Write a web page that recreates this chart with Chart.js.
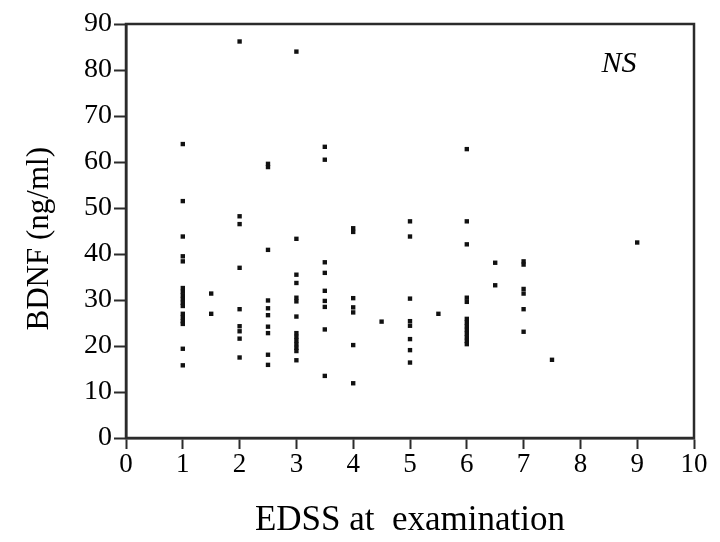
<!DOCTYPE html>
<html>
<head>
<meta charset="utf-8">
<script src="https://cdn.jsdelivr.net/npm/chart.js@4.4.0/dist/chart.umd.min.js"></script>
<style>
  html, body { margin: 0; padding: 0; background: #fff; }
  #wrap { width: 720px; height: 542px; }
</style>
</head>
<body>
<div id="wrap"><canvas id="chart" width="720" height="542"></canvas></div>
<script>
// EDSS score (x) and BDNF level (y) for each patient
const edssScores = [
  1, 1, 1, 1, 1, 1, 1, 1, 1, 1, 1, 1, 1, 1, 1, 1, 1,
  1.5, 1.5,
  2, 2, 2, 2, 2, 2, 2, 2, 2,
  2.5, 2.5, 2.5, 2.5, 2.5, 2.5, 2.5, 2.5, 2.5, 2.5,
  3, 3, 3, 3, 3, 3, 3, 3, 3, 3, 3, 3, 3, 3,
  3.5, 3.5, 3.5, 3.5, 3.5, 3.5, 3.5, 3.5, 3.5,
  4, 4, 4, 4, 4, 4, 4,
  4.5,
  5, 5, 5, 5, 5, 5, 5, 5,
  5.5,
  6, 6, 6, 6, 6, 6, 6, 6, 6, 6, 6, 6, 6,
  6.5, 6.5,
  7, 7, 7, 7, 7, 7,
  7.5,
  9
];
const bdnfLevels = [
  63.9, 51.5, 43.8, 39.5, 38.4, 32.6, 31.8, 31.0, 30.2, 29.4, 28.7, 27.0, 26.2, 25.4, 24.8, 19.4, 15.8,
  31.4, 27.0,
  86.2, 48.2, 46.5, 37.0, 28.0, 24.3, 23.2, 21.6, 17.5,
  59.6, 58.9, 40.9, 29.9, 28.2, 26.7, 24.2, 22.8, 18.1, 15.9,
  84.0, 43.3, 35.5, 33.7, 30.5, 29.7, 26.4, 22.8, 22.0, 21.2, 20.4, 19.6, 18.9, 16.9,
  63.3, 60.5, 38.2, 35.9, 32.0, 29.8, 28.5, 23.6, 13.5,
  45.6, 44.8, 30.4, 28.4, 27.3, 20.2, 11.9,
  25.3,
  47.1, 43.8, 30.3, 25.4, 24.4, 21.5, 19.1, 16.4,
  27.0,
  62.8, 47.1, 42.1, 30.5, 29.6, 25.9, 25.1, 24.3, 23.5, 22.7, 21.9, 21.1, 20.4,
  38.1, 33.2,
  38.4, 37.7, 32.4, 31.4, 28.0, 23.1,
  17.0,
  42.5
];

const xTitle = 'EDSS at  examination';
const yTitle = 'BDNF (ng/ml)  ';
const noteText = 'NS';

const serif = "'Liberation Serif', 'Times New Roman', serif";
const ink = '#2b2b2b';

// full frame round the plot + the NS note
const framePlugin = {
  id: 'frame',
  afterDraw(chart) {
    const { ctx, chartArea: a, scales } = chart;
    ctx.save();
    ctx.strokeStyle = ink;
    ctx.lineWidth = 2.5;
    ctx.strokeRect(a.left, a.top, a.right - a.left, a.bottom - a.top);
    ctx.fillStyle = '#000';
    ctx.font = 'italic 30px ' + serif;
    ctx.textAlign = 'center';
    ctx.textBaseline = 'middle';
    ctx.fillText(noteText, scales.x.getPixelForValue(8.68), scales.y.getPixelForValue(81.3));
    ctx.restore();
  }
};

new Chart(document.getElementById('chart'), {
  type: 'scatter',
  data: {
    datasets: [{
      data: edssScores.map((x, i) => ({ x: x, y: bdnfLevels[i] })),
      pointStyle: 'rect',
      pointRadius: 3.1,
      pointBorderWidth: 0,
      backgroundColor: '#111',
      borderColor: '#111'
    }]
  },
  options: {
    responsive: false,
    animation: false,
    layout: { padding: { top: 24, right: 26, left: 0, bottom: 0 } },
    plugins: {
      legend: { display: false },
      tooltip: { enabled: false }
    },
    scales: {
      x: {
        type: 'linear',
        min: 0,
        max: 10,
        afterFit: (s) => { s.height = 104; },
        border: { display: true, color: ink, width: 2.5 },
        grid: { drawOnChartArea: false, drawTicks: true, tickLength: 11, tickColor: ink, tickWidth: 2 },
        ticks: { stepSize: 1, padding: 0, color: '#000', font: { family: serif, size: 27 } },
        title: {
          display: true,
          text: xTitle,
          color: '#000',
          font: { family: serif, size: 35 },
          padding: { top: 0, bottom: 0 }
        }
      },
      y: {
        type: 'linear',
        min: 0,
        max: 90,
        afterFit: (s) => { s.width = 126; },
        border: { display: true, color: ink, width: 2.5 },
        grid: { drawOnChartArea: false, drawTicks: true, tickLength: 12, tickColor: ink, tickWidth: 2 },
        ticks: { stepSize: 10, padding: 2, color: '#000', font: { family: serif, size: 28 } },
        title: {
          display: true,
          text: yTitle,
          color: '#000',
          font: { family: serif, size: 31 },
          padding: { top: 21, bottom: 0 }
        }
      }
    }
  },
  plugins: [framePlugin]
});
</script>
</body>
</html>
